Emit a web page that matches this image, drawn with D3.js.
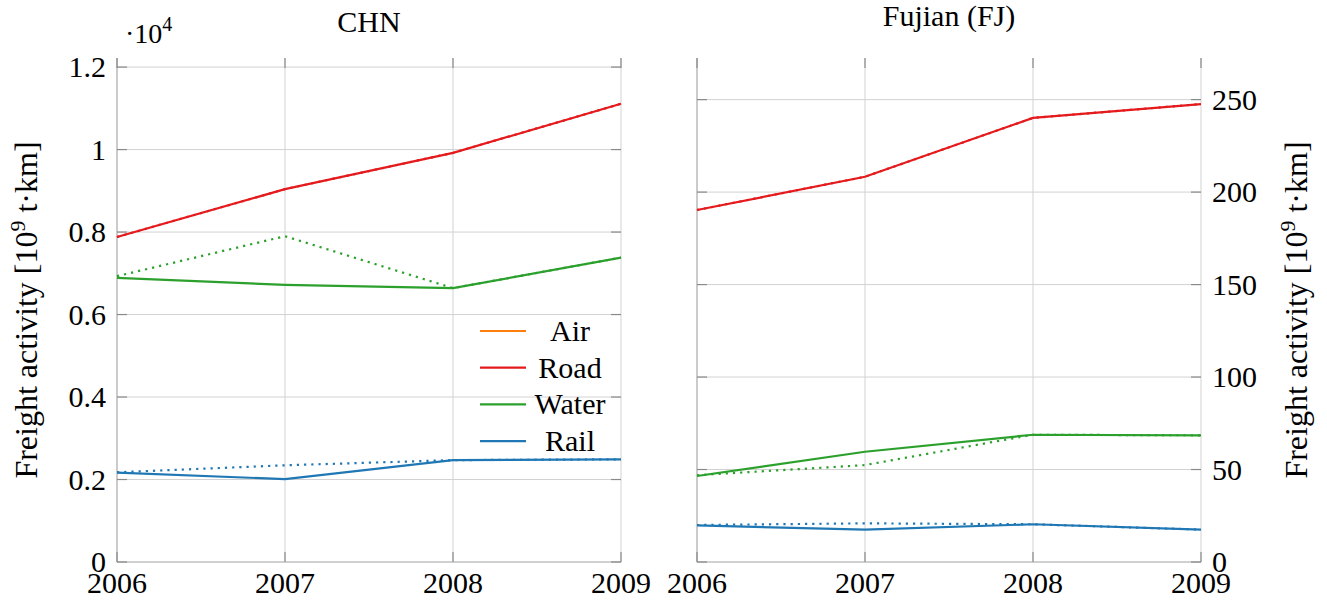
<!DOCTYPE html>
<meta charset="utf-8">
<html>
<head>
<title>Freight activity</title>
<style>
  body { margin: 0; background: #fff; }
  text { font-family: "Liberation Serif", "Times New Roman", serif; fill: #000; }
  .grid line { stroke: #d2d2d2; stroke-width: 1px; }
  .tick-mark { stroke: #8a8a8a; stroke-width: 1.2px; }
  .axis-line { stroke: #b8b8b8; stroke-width: 1.2px; }
</style>
<script src="https://cdn.jsdelivr.net/npm/d3@7/dist/d3.min.js"></script>
</head>
<body>
<script>

    var width = 1327, height = 603;

    // data
    var years = [2006, 2007, 2008, 2009];
    var modes = ["Air", "Road", "Water", "Rail"];
    var colors = ["#ff7f0e", "#e41a1c", "#2ca02c", "#1f77b4"];

    // CHN, in units of 10^4 (x 10^9 t.km)
    var chnRoad      = [0.788, 0.904, 0.992, 1.111];
    var chnRoadDot   = [0.788, 0.904, 0.992, 1.111];
    var chnWater     = [0.689, 0.672, 0.664, 0.738];
    var chnWaterDot  = [0.693, 0.790, 0.664, 0.738];
    var chnRail      = [0.2165, 0.201, 0.247, 0.249];
    var chnRailDot   = [0.2175, 0.2345, 0.247, 0.249];

    // Fujian, 10^9 t.km
    var fjRoad       = [190.3, 208.3, 240.1, 247.6];
    var fjRoadDot    = [190.3, 208.3, 240.1, 247.6];
    var fjWater      = [46.5, 59.6, 68.8, 68.5];
    var fjWaterDot   = [46.9, 52.4, 68.8, 68.5];
    var fjRail       = [19.8, 17.5, 20.4, 17.5];
    var fjRailDot    = [20.0, 20.9, 20.4, 17.5];

    var chnTicks = [0, 0.2, 0.4, 0.6, 0.8, 1, 1.2];
    var chnTickLabels = ["0", "0.2", "0.4", "0.6", "0.8", "1", "1.2"];
    var fjTicks = [0, 50, 100, 150, 200, 250];

    var svg = d3.select("body").append("svg")
        .attr("width", width)
        .attr("height", height);

    var plotTop = 58, plotBottom = 562, tickLen = 10;

    var panels = [
      { title: "CHN", left: 117, right: 621, ymax: 1.222, ticks: chnTicks, labels: chnTickLabels, side: "left",
        series: [
          {mode: 2, solid: chnWater, dot: chnWaterDot},
          {mode: 3, solid: chnRail, dot: chnRailDot},
          {mode: 1, solid: chnRoad, dot: chnRoadDot}
        ] },
      { title: "Fujian (FJ)", left: 697, right: 1201, ymax: 272.5, ticks: fjTicks, labels: fjTicks.map(String), side: "right",
        series: [
          {mode: 2, solid: fjWater, dot: fjWaterDot},
          {mode: 3, solid: fjRail, dot: fjRailDot},
          {mode: 1, solid: fjRoad, dot: fjRoadDot}
        ] }
    ];

    panels.forEach(function(p) {
      var x = d3.scaleLinear().domain([2006, 2009]).range([p.left, p.right]);
      var y = d3.scaleLinear().domain([0, p.ymax]).range([plotBottom, plotTop]);
      var g = svg.append("g");

      // grid
      var grid = g.append("g").attr("class", "grid");
      grid.selectAll("line.v").data(years).enter().append("line")
        .attr("x1", d => x(d)).attr("x2", d => x(d))
        .attr("y1", plotTop).attr("y2", plotBottom);
      grid.selectAll("line.h").data(p.ticks).enter().append("line")
        .attr("x1", p.left).attr("x2", p.right)
        .attr("y1", d => y(d)).attr("y2", d => y(d));

      // axis lines
      g.append("line").attr("class", "axis-line")
        .attr("x1", p.left).attr("x2", p.left).attr("y1", plotTop).attr("y2", plotBottom);
      g.append("line").attr("class", "axis-line")
        .attr("x1", p.left).attr("x2", p.right).attr("y1", plotBottom).attr("y2", plotBottom);

      // tick marks on all sides
      years.forEach(function(d) {
        g.append("line").attr("class", "tick-mark")
          .attr("x1", x(d)).attr("x2", x(d)).attr("y1", plotBottom).attr("y2", plotBottom - tickLen);
        g.append("line").attr("class", "tick-mark")
          .attr("x1", x(d)).attr("x2", x(d)).attr("y1", plotTop).attr("y2", plotTop + tickLen);
      });
      p.ticks.forEach(function(d) {
        g.append("line").attr("class", "tick-mark")
          .attr("x1", p.left).attr("x2", p.left + tickLen).attr("y1", y(d)).attr("y2", y(d));
        g.append("line").attr("class", "tick-mark")
          .attr("x1", p.right - tickLen).attr("x2", p.right).attr("y1", y(d)).attr("y2", y(d));
      });

      // x tick labels
      g.selectAll("text.xt").data(years).enter().append("text")
        .attr("x", d => x(d)).attr("y", 593)
        .attr("text-anchor", "middle")
        .style("font-size", "30px")
        .text(d => d);

      // y tick labels
      g.selectAll("text.yt").data(p.ticks).enter().append("text")
        .attr("x", p.side == "left" ? p.left - 11 : p.right + 11)
        .attr("y", d => y(d) + 10)
        .attr("text-anchor", p.side == "left" ? "end" : "start")
        .style("font-size", "30px")
        .text((d, i) => p.labels[i]);

      // title
      g.append("text")
        .attr("x", (p.left + p.right) / 2)
        .attr("y", p.side == "left" ? 32 : 26)
        .attr("text-anchor", "middle")
        .style("font-size", "30px")
        .text(p.title);

      // lines
      var line = d3.line()
        .defined(d => d[1] != null)
        .x(d => x(d[0])).y(d => y(d[1]));

      p.series.forEach(function(s) {
        g.append("path")
          .datum(years.map((yr, i) => [yr, s.dot[i]]))
          .attr("d", line)
          .attr("fill", "none")
          .attr("stroke", colors[s.mode])
          .attr("stroke-width", 2.2)
          .attr("stroke-dasharray", "2.2 5");
        g.append("path")
          .datum(years.map((yr, i) => [yr, s.solid[i]]))
          .attr("d", line)
          .attr("fill", "none")
          .attr("stroke", colors[s.mode])
          .attr("stroke-width", 2.2);
      });

      // y axis label
      var lx = p.side == "left" ? 37 : 1307;
      var lab = svg.append("text")
        .attr("transform", `translate(${lx},310) rotate(-90)`)
        .attr("text-anchor", "middle")
        .style("font-size", "32px");
      lab.append("tspan").text("Freight activity [10");
      lab.append("tspan").attr("dy", -12).style("font-size", "22px").text("9");
      lab.append("tspan").attr("dy", 12).text(" t\u00b7km]");
    });

    // scale marker of left panel
    var sc = svg.append("text").attr("x", 125).attr("y", 43).style("font-size", "28px");
    sc.append("tspan").text("\u00b710");
    sc.append("tspan").attr("dy", -12).style("font-size", "20px").text("4");

    // legend
    var legend = svg.append("g");
    modes.forEach(function(m, i) {
      var ly = 331 + i * 36.7;
      legend.append("line")
        .attr("x1", 480).attr("x2", 526).attr("y1", ly).attr("y2", ly)
        .attr("stroke", colors[i]).attr("stroke-width", 2.2);
      legend.append("text")
        .attr("x", 570).attr("y", ly + 10)
        .attr("text-anchor", "middle")
        .style("font-size", "30px")
        .text(m);
    });

</script>
</body>
</html>
